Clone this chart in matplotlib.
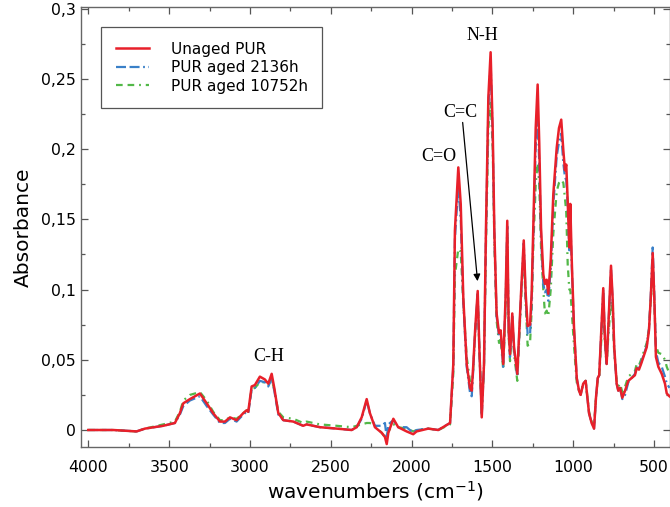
import matplotlib
matplotlib.use("Agg")
import matplotlib.pyplot as plt
from matplotlib.ticker import MultipleLocator, FuncFormatter

# FTIR spectra of polyurethane (PUR) before and after ageing
wavenumber = [
    4001, 3847, 3702, 3650, 3537, 3465, 3434, 3413, 3372, 3310, 3268, 3228,
    3186, 3155, 3124, 3083, 3042, 3021, 3011, 2990, 2970, 2939, 2908, 2887,
    2866, 2850, 2825, 2794, 2732, 2671, 2650, 2567, 2464, 2371, 2340, 2309,
    2278, 2258, 2227, 2185, 2165, 2154, 2144, 2113, 2083, 2031, 1990, 1969,
    1897, 1835, 1762, 1742, 1732, 1711, 1696, 1680, 1659, 1639, 1628, 1618,
    1607, 1591, 1581, 1566, 1552, 1540, 1525, 1511, 1498, 1488, 1474, 1459,
    1449, 1433, 1418, 1408, 1399, 1391, 1377, 1366, 1346, 1323, 1306, 1294,
    1282, 1267, 1257, 1247, 1232, 1220, 1210, 1199, 1185, 1175, 1164, 1154,
    1139, 1123, 1102, 1088, 1074, 1061, 1051, 1043, 1034, 1024, 1018, 1009,
    995, 978, 964, 954, 938, 923, 902, 886, 871, 859, 848, 839,
    828, 814, 804, 793, 783, 766, 756, 746, 731, 721, 710, 696,
    679, 659, 638, 618, 607, 593, 580, 560, 545, 531, 520, 508,
    498, 488, 473, 452, 432, 421, 404,
]

unaged = [
    0.000, 0.000, -0.001, 0.001, 0.003, 0.005, 0.012, 0.019, 0.022, 0.026, 0.019, 0.012,
    0.006, 0.006, 0.009, 0.007, 0.012, 0.014, 0.013, 0.031, 0.032, 0.038, 0.036, 0.033,
    0.040, 0.030, 0.012, 0.007, 0.006, 0.003, 0.004, 0.002, 0.001, 0.000, 0.002, 0.009,
    0.022, 0.012, 0.002, -0.002, -0.005, -0.010, -0.002, 0.008, 0.002, -0.001, -0.003, -0.001,
    0.001, 0.000, 0.005, 0.047, 0.142, 0.187, 0.161, 0.094, 0.047, 0.030, 0.028, 0.047,
    0.071, 0.099, 0.059, 0.009, 0.047, 0.142, 0.237, 0.269, 0.213, 0.142, 0.083, 0.069,
    0.071, 0.047, 0.096, 0.149, 0.071, 0.054, 0.083, 0.059, 0.040, 0.097, 0.135, 0.097,
    0.074, 0.075, 0.097, 0.144, 0.215, 0.246, 0.204, 0.144, 0.111, 0.104, 0.107, 0.097,
    0.121, 0.168, 0.201, 0.215, 0.221, 0.199, 0.185, 0.189, 0.163, 0.130, 0.161, 0.121,
    0.073, 0.037, 0.028, 0.025, 0.033, 0.035, 0.012, 0.005, 0.001, 0.023, 0.037, 0.039,
    0.066, 0.101, 0.066, 0.047, 0.073, 0.117, 0.094, 0.059, 0.033, 0.028, 0.030, 0.023,
    0.028, 0.035, 0.037, 0.039, 0.044, 0.043, 0.047, 0.054, 0.059, 0.071, 0.094, 0.126,
    0.094, 0.052, 0.045, 0.040, 0.033, 0.026, 0.024,
]

aged_2136h = [
    0.000, 0.000, -0.001, 0.001, 0.003, 0.005, 0.011, 0.017, 0.021, 0.024, 0.017, 0.011,
    0.005, 0.005, 0.008, 0.006, 0.011, 0.013, 0.012, 0.029, 0.030, 0.035, 0.034, 0.031,
    0.037, 0.028, 0.011, 0.007, 0.006, 0.003, 0.004, 0.002, 0.001, 0.000, 0.002, 0.008,
    0.021, 0.012, 0.003, 0.003, 0.005, -0.006, 0.004, 0.007, 0.002, 0.002, -0.002, 0.000,
    0.001, 0.000, 0.005, 0.045, 0.136, 0.174, 0.150, 0.090, 0.045, 0.027, 0.024, 0.044,
    0.069, 0.097, 0.058, 0.010, 0.046, 0.138, 0.230, 0.262, 0.208, 0.139, 0.081, 0.067,
    0.069, 0.045, 0.093, 0.145, 0.069, 0.052, 0.081, 0.057, 0.038, 0.095, 0.133, 0.094,
    0.068, 0.068, 0.092, 0.138, 0.203, 0.222, 0.190, 0.138, 0.104, 0.098, 0.100, 0.092,
    0.115, 0.160, 0.195, 0.205, 0.211, 0.190, 0.180, 0.178, 0.160, 0.128, 0.150, 0.118,
    0.072, 0.037, 0.028, 0.025, 0.033, 0.035, 0.012, 0.005, 0.001, 0.023, 0.037, 0.039,
    0.066, 0.100, 0.066, 0.047, 0.072, 0.114, 0.093, 0.058, 0.033, 0.028, 0.030, 0.022,
    0.025, 0.034, 0.037, 0.040, 0.045, 0.044, 0.048, 0.055, 0.060, 0.072, 0.096, 0.130,
    0.097, 0.056, 0.048, 0.045, 0.038, 0.033, 0.030,
]

aged_10752h = [
    0.000, 0.000, -0.001, 0.001, 0.004, 0.006, 0.013, 0.021, 0.025, 0.027, 0.021, 0.013,
    0.007, 0.007, 0.009, 0.008, 0.012, 0.014, 0.014, 0.029, 0.030, 0.034, 0.034, 0.032,
    0.036, 0.029, 0.013, 0.009, 0.008, 0.005, 0.006, 0.004, 0.003, 0.002, 0.003, 0.004,
    0.005, 0.005, 0.003, -0.002, -0.005, -0.004, -0.001, 0.004, 0.002, 0.001, -0.001, 0.000,
    0.001, 0.000, 0.004, 0.040, 0.110, 0.129, 0.127, 0.090, 0.052, 0.035, 0.030, 0.045,
    0.068, 0.095, 0.058, 0.012, 0.045, 0.130, 0.215, 0.235, 0.200, 0.135, 0.078, 0.062,
    0.065, 0.043, 0.090, 0.140, 0.066, 0.049, 0.078, 0.054, 0.035, 0.092, 0.128, 0.090,
    0.060, 0.062, 0.085, 0.130, 0.175, 0.190, 0.175, 0.130, 0.100, 0.083, 0.085, 0.081,
    0.100, 0.140, 0.170, 0.176, 0.178, 0.176, 0.165, 0.155, 0.118, 0.100, 0.100, 0.085,
    0.060, 0.034, 0.028, 0.026, 0.033, 0.035, 0.013, 0.006, 0.002, 0.023, 0.036, 0.038,
    0.060, 0.088, 0.062, 0.046, 0.066, 0.092, 0.080, 0.055, 0.035, 0.031, 0.033, 0.027,
    0.031, 0.038, 0.040, 0.042, 0.047, 0.046, 0.050, 0.057, 0.062, 0.072, 0.092, 0.115,
    0.090, 0.060, 0.055, 0.054, 0.050, 0.045, 0.040,
]

series_labels = ["Unaged PUR", "PUR aged 2136h", "PUR aged 10752h"]
band_labels = ["C-H", "C=O", "C=C", "N-H"]
band_text_pos = [(2885, 0.052), (1833, 0.195), (1696, 0.226), (1565, 0.281)]
arrow_start = (1684, 0.219)
arrow_end = (1592, 0.106)

RED = "#e8202a"
BLUE = "#3a80c8"
GREEN = "#52b848"

fig = plt.figure(figsize=(6.7, 5.07), dpi=100)
ax = fig.add_axes([81 / 670, 60 / 507, 588.5 / 670, 439.7 / 507])

ax.plot(wavenumber, aged_10752h, color=GREEN, lw=1.6,
        dashes=(3.0, 2.2, 3.0, 2.2, 0.8, 2.2), label=series_labels[2], zorder=2)
ax.plot(wavenumber, aged_2136h, color=BLUE, lw=1.6,
        dashes=(4.5, 1.6, 4.5, 1.6, 0.8, 1.6), label=series_labels[1], zorder=3)
ax.plot(wavenumber, unaged, color=RED, lw=1.8, label=series_labels[0], zorder=4)

ax.set_xlim(4046, 404)
ax.set_ylim(-0.0121, 0.301)

ax.xaxis.set_major_locator(MultipleLocator(500))
ax.xaxis.set_minor_locator(MultipleLocator(250))
ax.yaxis.set_major_locator(MultipleLocator(0.05))
ax.yaxis.set_minor_locator(MultipleLocator(0.025))
ax.yaxis.set_major_formatter(FuncFormatter(lambda v, p: ("%g" % round(v, 3)).replace(".", ",")))

ax.tick_params(which="both", direction="in", top=True, right=True,
               colors="#555555", labelcolor="black", labelsize=11.3)
ax.tick_params(which="major", length=5, width=0.9)
ax.tick_params(which="minor", length=3, width=0.9)
ax.tick_params(axis="x", pad=9)
for s in ax.spines.values():
    s.set_color("#666666")
    s.set_linewidth(1.0)

ax.set_xlabel("wavenumbers (cm$^{\\mathregular{-1}}$)", fontsize=14.5, labelpad=3)
ax.set_ylabel("Absorbance", fontsize=14.5, labelpad=6)

serif = ["Liberation Serif", "DejaVu Serif"]
for txt, (xx, yy) in zip(band_labels, band_text_pos):
    ax.text(xx, yy, txt, family=serif, fontsize=13, ha="center", va="center")
ax.annotate("", xy=arrow_end, xytext=arrow_start,
            arrowprops=dict(arrowstyle="-|>", color="black", lw=0.9,
                            mutation_scale=10, shrinkA=0, shrinkB=0))

handles, labels = ax.get_legend_handles_labels()
order = [2, 1, 0]
leg = ax.legend([handles[i] for i in order], [labels[i] for i in order],
                loc="upper left", bbox_to_anchor=(20 / 588.5, 1 - 20 / 439.7),
                borderaxespad=0, fancybox=False, fontsize=11,
                handlelength=2.2, handletextpad=1.4, borderpad=0.95,
                labelspacing=0.22, framealpha=1)
leg.get_frame().set_edgecolor("#555555")
leg.get_frame().set_linewidth(0.9)

fig.savefig("out.png", dpi=100)
